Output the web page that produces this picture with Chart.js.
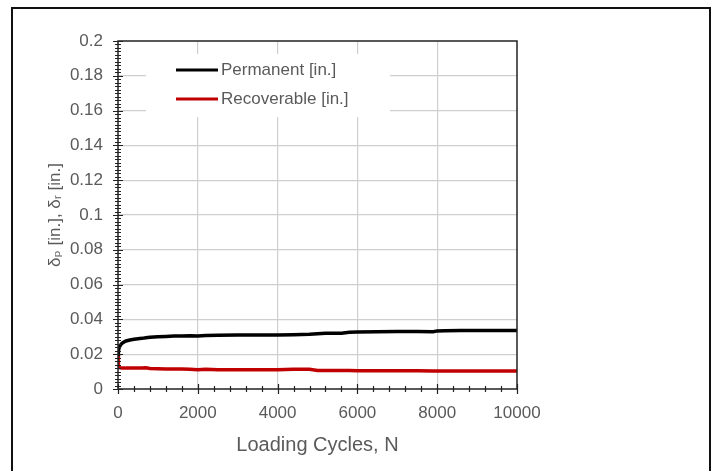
<!DOCTYPE html>
<html>
<head>
<meta charset="utf-8">
<script src="https://cdn.jsdelivr.net/npm/chart.js@4.4.1/dist/chart.umd.min.js"></script>
<style>
  html, body { margin: 0; padding: 0; background: #fff; }
  #wrap { position: relative; width: 717px; height: 471px; overflow: hidden; }
  #frame { position: absolute; left: 11px; top: 7px; width: 696px; height: 480px;
           border-left: 2px solid #111; border-top: 2px solid #111; border-right: 2px solid #111; }
  canvas { position: absolute; left: 0; top: 0; }
</style>
</head>
<body>
<div id="wrap">
  <div id="frame"></div>
  <canvas id="c" width="717" height="471"></canvas>
</div>
<script>
// ---- data ----
const cycles = [0, 10, 30, 60, 100, 150, 200, 300, 400, 500, 600, 700, 800, 1000, 1200, 1400, 1600, 1800, 2000, 2200, 2500, 3000, 3500, 4000, 4400, 4800, 5000, 5200, 5600, 5800, 6000, 6500, 7000, 7500, 7900, 8000, 8200, 8600, 9000, 9500, 10000];
const permanent = [0.0200, 0.0220, 0.0238, 0.0252, 0.0262, 0.0270, 0.0276, 0.0282, 0.0286, 0.0289, 0.0291, 0.0294, 0.0297, 0.0300, 0.0302, 0.0304, 0.0305, 0.0306, 0.0304, 0.0308, 0.0309, 0.0310, 0.0310, 0.0311, 0.0312, 0.0314, 0.0318, 0.0320, 0.0321, 0.0326, 0.0328, 0.0329, 0.0330, 0.0330, 0.0329, 0.0334, 0.0335, 0.0336, 0.0336, 0.0336, 0.0336];
const recoverable = [0.0200, 0.0125, 0.0123, 0.0122, 0.0121, 0.0121, 0.0120, 0.0120, 0.0121, 0.0120, 0.0121, 0.0122, 0.0118, 0.0116, 0.0115, 0.0115, 0.0115, 0.0114, 0.0110, 0.0113, 0.0110, 0.0110, 0.0110, 0.0110, 0.0113, 0.0113, 0.0107, 0.0107, 0.0106, 0.0106, 0.0105, 0.0105, 0.0105, 0.0105, 0.0104, 0.0104, 0.0104, 0.0104, 0.0104, 0.0103, 0.0103];
const seriesNames = ["Permanent [in.]", "Recoverable [in.]"];
const xTitle = "Loading Cycles, N";
const yTitle = "\u03B4\u209A [in.], \u03B4\u1D63 [in.]";
const xMajor = [0, 2000, 4000, 6000, 8000, 10000];
const yMajor = [0, 0.02, 0.04, 0.06, 0.08, 0.1, 0.12, 0.14, 0.16, 0.18, 0.2];

const FONT = "'Liberation Sans', Arial, 'DejaVu Sans', sans-serif";
const TXT = "#5a5a5a";

const toPts = (ys) => cycles.map((x, i) => ({ x: x, y: ys[i] }));

// plot frame, minor ticks, legend box
const decor = {
  id: 'decor',
  beforeDatasetsDraw(chart) {
    const ctx = chart.ctx;
    ctx.save();
    const lx = 146, ly = 54, lw = 244, lh = 63;
    ctx.fillStyle = '#fff';
    ctx.fillRect(lx, ly, lw, lh);
    const rows = [70, 99];
    ctx.font = "17px " + FONT;
    ctx.textBaseline = 'middle';
    chart.data.datasets.forEach((d, i) => {
      ctx.strokeStyle = d.borderColor;
      ctx.lineWidth = 3;
      ctx.beginPath(); ctx.moveTo(176, rows[i]); ctx.lineTo(218, rows[i]); ctx.stroke();
      ctx.fillStyle = TXT;
      ctx.fillText(d.label, 221, rows[i]);
    });
    ctx.restore();
  },
  afterDatasetsDraw(chart) {
    const ctx = chart.ctx, a = chart.chartArea;
    const xs = chart.scales.x, ys = chart.scales.y;
    ctx.save();
    ctx.strokeStyle = '#222';
    ctx.lineWidth = 1.5;
    ctx.strokeRect(a.left, a.top, a.right - a.left, a.bottom - a.top);
    ctx.lineWidth = 1.2;
    ctx.beginPath();
    for (let k = 0; k <= 100; k++) {
      const v = k * 0.002;
      const py = Math.round(ys.getPixelForValue(v)) + 0.5;
      const l = (k % 10 === 0) ? 5 : 3;
      ctx.moveTo(a.left - l, py); ctx.lineTo(a.left + l, py);
    }
    for (let k = 0; k <= 25; k++) {
      const v = k * 400;
      const px = Math.round(xs.getPixelForValue(v)) + 0.5;
      const l = (k % 5 === 0) ? 5 : 3;
      ctx.moveTo(px, a.bottom - l); ctx.lineTo(px, a.bottom + l);
    }
    ctx.stroke();
    ctx.restore();
  }
};

new Chart(document.getElementById('c'), {
  type: 'line',
  data: {
    datasets: [
      { label: seriesNames[0], data: toPts(permanent), borderColor: '#000000', borderWidth: 3.5, pointRadius: 0, tension: 0 },
      { label: seriesNames[1], data: toPts(recoverable), borderColor: '#c00000', borderWidth: 3.5, pointRadius: 0, tension: 0 }
    ]
  },
  options: {
    responsive: false,
    animation: false,
    events: [],
    layout: { padding: { left: 0, right: 200, top: 41, bottom: 0 } },
    plugins: { legend: { display: false }, tooltip: { enabled: false } },
    scales: {
      x: {
        type: 'linear', min: 0, max: 10000,
        afterBuildTicks: (s) => { s.ticks = xMajor.map(v => ({ value: v })); },
        afterFit: (s) => { s.height = 82; },
        grid: { color: (c) => (c.tick && (c.tick.value === 0 || c.tick.value === 10000)) ? 'rgba(0,0,0,0)' : '#cfcfcf', lineWidth: 1.2, drawTicks: false },
        border: { display: false },
        ticks: { padding: 14, color: TXT, font: { family: FONT, size: 17 }, maxRotation: 0, callback: (v) => String(v) },
        title: { display: true, text: xTitle, color: TXT, font: { family: FONT, size: 20 }, padding: { top: 4, bottom: 14 } }
      },
      y: {
        type: 'linear', min: 0, max: 0.2,
        afterBuildTicks: (s) => { s.ticks = yMajor.map(v => ({ value: v })); },
        afterFit: (s) => { s.width = 118; },
        grid: { color: (c) => (c.tick && (c.tick.value === 0 || Math.abs(c.tick.value - 0.2) < 1e-9)) ? 'rgba(0,0,0,0)' : '#cfcfcf', lineWidth: 1.2, drawTicks: false },
        border: { display: false },
        ticks: { padding: 15, color: TXT, font: { family: FONT, size: 17 }, callback: (v) => String(Math.round(v * 100) / 100) },
        title: { display: true, text: yTitle, color: TXT, font: { family: FONT, size: 17 }, padding: { top: 45, bottom: 0 } }
      }
    }
  },
  plugins: [decor]
});
</script>
</body>
</html>
